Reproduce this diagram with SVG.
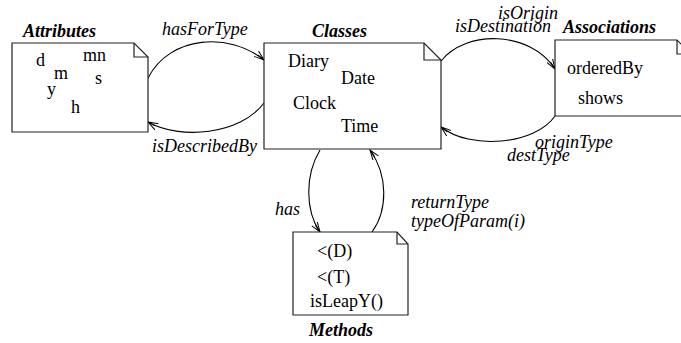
<svg xmlns="http://www.w3.org/2000/svg" width="681" height="343" viewBox="0 0 681 343">
<style>
text{font-family:'Liberation Serif',serif;font-size:18px;fill:#000}
.t{font-weight:bold;font-style:italic}
.l{font-style:italic}
.box{fill:#fff;stroke:#222;stroke-width:1.2}
.fold{fill:none;stroke:#222;stroke-width:1.2}
.c{fill:none;stroke:#000;stroke-width:1.1}
</style>
<defs>
<marker id="ah" markerWidth="12" markerHeight="8" refX="10" refY="4" orient="auto" markerUnits="userSpaceOnUse">
<path d="M0,0.5 L10,4 L0,7.5 M2,4 L10,4" fill="none" stroke="#000" stroke-width="1"/>
</marker>
</defs>
<rect width="681" height="343" fill="#fff"/>
<g id="connectors">
<path class="c" d="M148,78 C170,35 230,32 264,60" marker-end="url(#ah)"/>
<path class="c" d="M264,103 C240,135 180,140 148,122" marker-end="url(#ah)"/>
<path class="c" d="M441,61 C465,30 530,30 555,69" marker-end="url(#ah)"/>
<path class="c" d="M555,116 C535,145 470,150 441,127" marker-end="url(#ah)"/>
<path class="c" d="M320,150 C305,175 305,210 320,232" marker-end="url(#ah)"/>
<path class="c" d="M372,232 C388,210 388,175 370,150" marker-end="url(#ah)"/>
<text class="l" x="162" y="35">hasForType</text>
<text class="l" x="152" y="152">isDescribedBy</text>
<text class="l" x="498" y="19">isOrigin</text>
<text class="l" x="455" y="32">isDestination</text>
<text class="l" x="535" y="148">originType</text>
<text class="l" x="507" y="161">destType</text>
<text class="l" x="275" y="215">has</text>
<text class="l" x="411" y="208">returnType</text>
<text class="l" x="411" y="227">typeOfParam(i)</text>
</g>
<g id="attributes">
<path class="box" d="M12,43 H134 L148,57 V132 H12 Z"/>
<path class="fold" d="M134,43 V57 H148"/>
<text class="t" x="23" y="37">Attributes</text>
<text x="36" y="66">d</text>
<text x="83" y="61">mn</text>
<text x="54" y="79">m</text>
<text x="95" y="84">s</text>
<text x="47" y="95">y</text>
<text x="71" y="113">h</text>
</g>
<g id="classes">
<path class="box" d="M264,43 H424 L441,60 V149 H264 Z"/>
<path class="fold" d="M424,43 V60 H441"/>
<text class="t" x="312" y="37">Classes</text>
<text x="288" y="67">Diary</text>
<text x="341" y="84">Date</text>
<text x="293" y="109">Clock</text>
<text x="341" y="132">Time</text>
</g>
<g id="associations">
<path class="box" d="M555,40 H677 L691,54 V116 H555 Z"/>
<path class="fold" d="M677,40 V54 H691"/>
<text class="t" x="563" y="33">Associations</text>
<text x="567" y="74">orderedBy</text>
<text x="578" y="104">shows</text>
</g>
<g id="methods">
<path class="box" d="M293,232 H397 L408,244 V315 H293 Z"/>
<path class="fold" d="M397,232 V244 H408"/>
<text class="t" x="309" y="336">Methods</text>
<text x="317" y="257">&lt;(D)</text>
<text x="317" y="283">&lt;(T)</text>
<text x="310" y="307">isLeapY()</text>
</g>
</svg>
